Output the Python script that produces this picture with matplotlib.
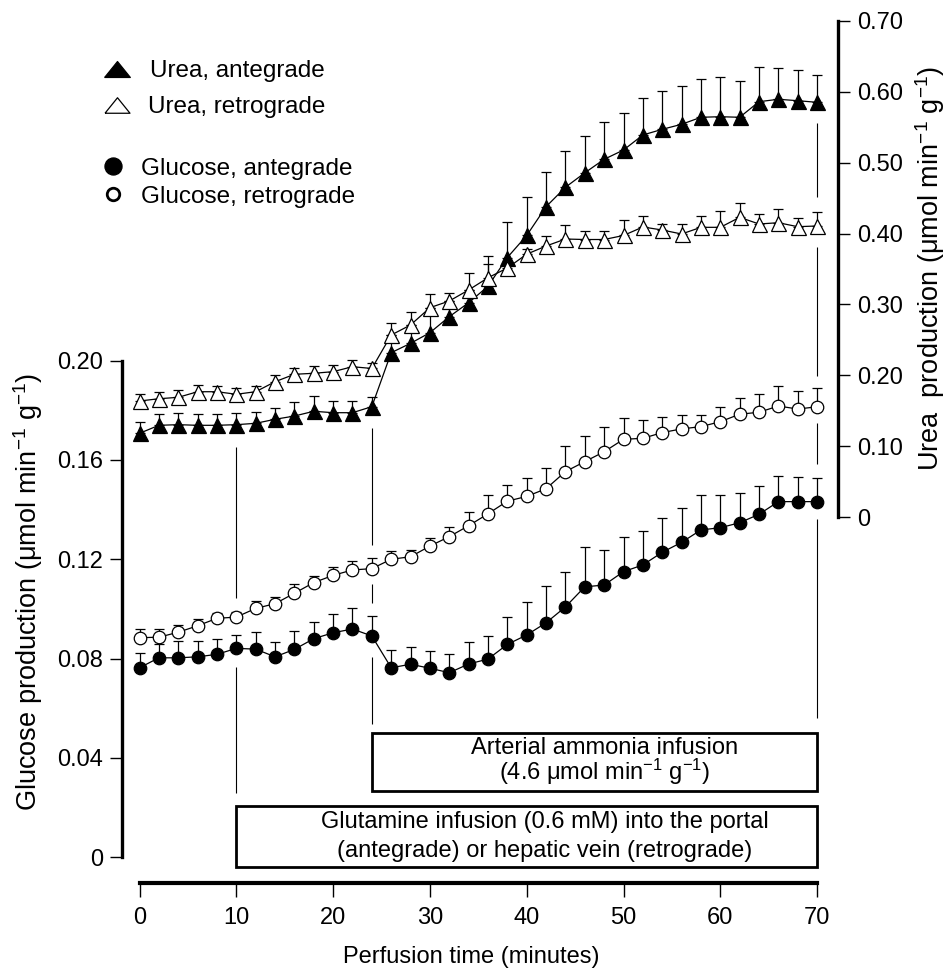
import matplotlib
matplotlib.use("Agg")
import matplotlib.pyplot as plt
from matplotlib.lines import Line2D
from matplotlib.patches import Rectangle

plt.rcParams['font.family'] = ['Liberation Sans', 'DejaVu Sans']
plt.rcParams['mathtext.fontset'] = 'custom'
plt.rcParams['mathtext.rm'] = 'Liberation Sans'
plt.rcParams['mathtext.it'] = 'Liberation Sans:italic'
plt.rcParams['mathtext.bf'] = 'Liberation Sans:bold'

# perfusion time (min)
time = [0, 2, 4, 6, 8, 10, 12, 14, 16, 18, 20, 22, 24, 26, 28, 30, 32, 34,
        36, 38, 40, 42, 44, 46, 48, 50, 52, 54, 56, 58, 60, 62, 64, 66, 68, 70]

# glucose production (umol/min/g), left axis
glucose_ante = [0.0763, 0.0803, 0.0803, 0.0807, 0.0817, 0.0841, 0.0838, 0.0807, 0.0837,
                0.0880, 0.0904, 0.0919, 0.0891, 0.0763, 0.0777, 0.0761, 0.0743, 0.0778,
                0.0798, 0.0857, 0.0895, 0.0944, 0.1008, 0.1089, 0.1096, 0.1150, 0.1177,
                0.1228, 0.1268, 0.1318, 0.1327, 0.1347, 0.1381, 0.1432, 0.1432, 0.1432]
glucose_ante_err = [0.0060, 0.0056, 0.0068, 0.0064, 0.0060, 0.0052, 0.0067, 0.0060, 0.0074,
                    0.0067, 0.0075, 0.0086, 0.0081, 0.0070, 0.0068, 0.0070, 0.0074, 0.0090,
                    0.0093, 0.0111, 0.0133, 0.0148, 0.0141, 0.0161, 0.0141, 0.0141, 0.0138,
                    0.0137, 0.0137, 0.0141, 0.0132, 0.0121, 0.0114, 0.0104, 0.0098, 0.0094]
glucose_retro = [0.0884, 0.0886, 0.0906, 0.0932, 0.0962, 0.0967, 0.1002, 0.1021, 0.1063,
                 0.1106, 0.1135, 0.1157, 0.1162, 0.1200, 0.1210, 0.1253, 0.1291, 0.1335,
                 0.1383, 0.1434, 0.1453, 0.1484, 0.1553, 0.1593, 0.1633, 0.1683, 0.1687,
                 0.1710, 0.1725, 0.1734, 0.1754, 0.1784, 0.1792, 0.1817, 0.1805, 0.1814]
glucose_retro_err = [0.0035, 0.0033, 0.0029, 0.0026, 0.0020, 0.0020, 0.0028, 0.0027, 0.0036,
                     0.0027, 0.0035, 0.0035, 0.0042, 0.0033, 0.0027, 0.0031, 0.0040, 0.0054,
                     0.0075, 0.0064, 0.0073, 0.0085, 0.0104, 0.0105, 0.0099, 0.0087, 0.0074,
                     0.0062, 0.0056, 0.0047, 0.0058, 0.0067, 0.0072, 0.0082, 0.0072, 0.0074]

# urea production (umol/min/g), right axis
urea_ante = [0.1181, 0.1294, 0.1303, 0.1294, 0.1294, 0.1303, 0.1322, 0.1379, 0.1425,
             0.1492, 0.1472, 0.1472, 0.1557, 0.2319, 0.2451, 0.2601, 0.2827, 0.3024,
             0.3256, 0.3662, 0.3973, 0.4379, 0.4653, 0.4857, 0.5048, 0.5179, 0.5391,
             0.5471, 0.5542, 0.5641, 0.5649, 0.5641, 0.5861, 0.5895, 0.5875, 0.5852]
urea_ante_err = [0.0164, 0.0155, 0.0169, 0.0160, 0.0160, 0.0169, 0.0160, 0.0155, 0.0193,
                 0.0216, 0.0161, 0.0161, 0.0141, 0.0250, 0.0260, 0.0350, 0.0220, 0.0180,
                 0.0428, 0.0505, 0.0539, 0.0494, 0.0512, 0.0519, 0.0522, 0.0518, 0.0518,
                 0.0545, 0.0540, 0.0540, 0.0556, 0.0517, 0.0485, 0.0442, 0.0433, 0.0385]
urea_retro = [0.1637, 0.1669, 0.1689, 0.1768, 0.1768, 0.1732, 0.1768, 0.1909, 0.2014,
              0.2028, 0.2051, 0.2121, 0.2096, 0.2568, 0.2710, 0.2954, 0.3048, 0.3204,
              0.3376, 0.3514, 0.3709, 0.3824, 0.3923, 0.3916, 0.3916, 0.3973, 0.4093,
              0.4050, 0.3994, 0.4088, 0.4088, 0.4229, 0.4135, 0.4153, 0.4097, 0.4107]
urea_retro_err = [0.0095, 0.0099, 0.0103, 0.0095, 0.0085, 0.0085, 0.0085, 0.0095, 0.0085,
                  0.0103, 0.0095, 0.0095, 0.0082, 0.0165, 0.0190, 0.0190, 0.0120, 0.0240,
                  0.0195, 0.0070, 0.0080, 0.0141, 0.0200, 0.0117, 0.0117, 0.0212, 0.0151,
                  0.0085, 0.0141, 0.0160, 0.0234, 0.0198, 0.0141, 0.0193, 0.0119, 0.0193]

glucose_ticks = [0, 0.04, 0.08, 0.12, 0.16, 0.20]
glucose_ticklabels = ['0', '0.04', '0.08', '0.12', '0.16', '0.20']
urea_ticks = [0, 0.10, 0.20, 0.30, 0.40, 0.50, 0.60, 0.70]
urea_ticklabels = ['0', '0.10', '0.20', '0.30', '0.40', '0.50', '0.60', '0.70']
time_ticks = [0, 10, 20, 30, 40, 50, 60, 70]

# guide lines at the infusion start/stop times (glucose-axis units, broken around data)
guide_lines = {
    10: [(0.1044, 0.1651), (0.0259, 0.0766)],
    24: [(0.1257, 0.1728), (0.1023, 0.1100), (0.0537, 0.0806)],
    70: [(0.2660, 0.2958), (0.1938, 0.2459), (0.1582, 0.1747), (0.0561, 0.1361)],
}

FS = 17.0
FS_TXT = 17.0
FS_YLAB = 19.5

fig = plt.figure(figsize=(9.45, 9.68), dpi=100)
ax = fig.add_axes([122 / 945, 1 - 883 / 968, 716.3 / 945, 863 / 968])
ax.set_xlim(-1.81, 72.19)
ax.set_ylim(-0.01039, 0.33717)
ax.patch.set_visible(False)

ax2 = ax.twinx()
ax2.set_ylim(-0.5165, 0.70138)

for s in ['top', 'right']:
    ax.spines[s].set_visible(False)
ax.spines['left'].set_bounds(0, 0.20)
ax.spines['left'].set_linewidth(2.4)
ax.spines['bottom'].set_bounds(0, 70)
ax.spines['bottom'].set_linewidth(3.0)
for s in ['top', 'left', 'bottom']:
    ax2.spines[s].set_visible(False)
ax2.spines['right'].set_bounds(0, 0.70)
ax2.spines['right'].set_linewidth(2.4)

ax.set_xticks(time_ticks)
ax.set_xticklabels([str(t) for t in time_ticks])
ax.set_yticks(glucose_ticks)
ax.set_yticklabels(glucose_ticklabels)
ax2.set_yticks(urea_ticks)
ax2.set_yticklabels(urea_ticklabels)
ax.tick_params(axis='x', direction='out', length=10, width=1.0, pad=7, labelsize=FS)
ax.tick_params(axis='y', direction='out', length=8.5, width=1.0, pad=5, labelsize=FS)
ax2.tick_params(axis='y', direction='out', length=8.5, width=1.0, pad=5, labelsize=FS)

# guide lines and infusion boxes
for t, segs in guide_lines.items():
    for lo, hi in segs:
        ax.vlines(t, lo, hi, color='k', lw=0.8, zorder=1)

ax.add_patch(Rectangle((24, 0.0267), 46, 0.0235, fc='white', ec='k', lw=2.0, zorder=2))
ax.add_patch(Rectangle((10, -0.0038), 60, 0.0245, fc='white', ec='k', lw=2.0, zorder=2))
ax.text(48.0, 0.0416, 'Arterial ammonia infusion', ha='center', va='baseline', fontsize=FS_TXT)
ax.text(48.0, 0.0311, '(4.6 μmol min$^{-1}$ g$^{-1}$)', ha='center', va='baseline',
        fontsize=FS_TXT)
ax.text(41.9, 0.0119, 'Glutamine infusion (0.6 mM) into the portal',
        ha='center', va='baseline', fontsize=FS_TXT)
ax.text(41.9, 0.0002, '(antegrade) or hepatic vein (retrograde)',
        ha='center', va='baseline', fontsize=FS_TXT)

# data
zeros = [0] * len(time)
common = dict(color='k', lw=0.9, elinewidth=0.9, capsize=3.4, capthick=1.5, mec='k', mew=0.9)
ax.errorbar(time, glucose_ante, yerr=[zeros, glucose_ante_err], marker='o', ms=9,
            mfc='k', zorder=3, **common)
ax.errorbar(time, glucose_retro, yerr=[zeros, glucose_retro_err], marker='o', ms=9,
            mfc='white', zorder=4, **common)
ax2.errorbar(time, urea_ante, yerr=[zeros, urea_ante_err], marker='^', ms=10.8,
             mfc='k', zorder=3, **common)
ax2.errorbar(time, urea_retro, yerr=[zeros, urea_retro_err], marker='^', ms=10.8,
             mfc='white', zorder=4, **common)

# axis labels
fig.text(471.3 / 945, 1 - 963 / 968, 'Perfusion time (minutes)', ha='center',
         va='baseline', fontsize=FS_TXT)
fig.text(28 / 945, 1 - 592 / 968, 'Glucose production (μmol min$^{-1}$ g$^{-1}$)',
         rotation=90, ha='center', va='center', fontsize=FS_YLAB)
fig.text(930 / 945, 1 - 268 / 968, 'Urea  production (μmol min$^{-1}$ g$^{-1}$)',
         rotation=90, ha='center', va='center', fontsize=FS_YLAB)

# legend drawn by hand
wide_tri = [(-1, -0.62), (1, -0.62), (0, 0.62), (-1, -0.62)]
legend_items = [
    (116.7, 69.3, 77, 150, wide_tri, 18.5, 'k', 0.9, 'Urea, antegrade'),
    (116.7, 105, 112.5, 148.3, wide_tri, 18.0, 'white', 0.9, 'Urea, retrograde'),
    (113.3, 166, 175, 140.7, 'o', 12.3, 'k', 0.9, 'Glucose, antegrade'),
    (113.3, 194, 203.3, 140.7, 'o', 9.0, 'white', 2.0, 'Glucose, retrograde'),
]
for mx, my, by, tx, mk, ms, fc, mw, label in legend_items:
    fig.add_artist(Line2D([mx / 945], [1 - my / 968], marker=mk, ms=ms, mfc=fc, mec='k',
                          mew=mw, ls='none', transform=fig.transFigure))
    fig.text(tx / 945, 1 - by / 968, label, ha='left', va='baseline', fontsize=17.5)

fig.savefig('out.png', dpi=100)
